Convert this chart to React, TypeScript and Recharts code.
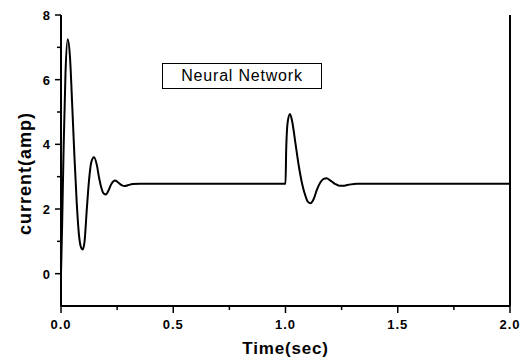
import React from 'react'
import { LineChart, Line, XAxis, YAxis } from 'recharts'

// time (sec) and current (amp)
const TIME = [
  0, 0.005, 0.012, 0.02, 0.03, 0.04, 0.05, 0.06, 0.07, 0.08, 0.09, 0.097, 0.105, 0.115, 0.125,
  0.135, 0.147, 0.16, 0.17, 0.18, 0.19, 0.2, 0.21, 0.225, 0.24, 0.255, 0.27, 0.285, 0.3, 0.32,
  0.35, 0.5, 0.75, 0.99, 1.0, 1.003, 1.01, 1.02, 1.03, 1.045, 1.06, 1.075, 1.09, 1.1, 1.112,
  1.125, 1.14, 1.155, 1.17, 1.183, 1.2, 1.22, 1.24, 1.256, 1.28, 1.32, 1.5, 1.75, 2.0,
]
const CURRENT = [
  0, 1.5, 4.0, 6.2, 7.25, 6.7, 5.2, 3.6, 2.2, 1.2, 0.8, 0.75, 1.0, 2.0, 2.9,
  3.45, 3.6, 3.35, 2.95, 2.65, 2.48, 2.45, 2.55, 2.78, 2.88, 2.82, 2.74, 2.71, 2.74, 2.77,
  2.78, 2.78, 2.78, 2.78, 2.78, 3.8, 4.7, 4.94, 4.7, 4.0, 3.3, 2.75, 2.38, 2.22, 2.18,
  2.3, 2.6, 2.82, 2.93, 2.95, 2.88, 2.78, 2.72, 2.72, 2.75, 2.78, 2.78, 2.78, 2.78,
]

const X_MAJOR = [0, 0.5, 1, 1.5, 2]
const X_LABELS = ['0.0', '0.5', '1.0', '1.5', '2.0']
const X_MINOR = [0.25, 0.75, 1.25, 1.75]
const Y_MAJOR = [0, 2, 4, 6, 8]
const Y_LABELS = ['0', '2', '4', '6', '8']
const Y_MINOR = [1, 3, 5, 7]

const data = TIME.map((t, i) => ({ t, current: CURRENT[i] }))
const xTicks = [...X_MAJOR, ...X_MINOR].sort((a, b) => a - b)
const yTicks = [...Y_MAJOR, ...Y_MINOR].sort((a, b) => a - b)

const FONT = '"Liberation Sans", Arial, sans-serif'

const BottomTick = ({ x, y, payload }: any) => {
  const idx = X_MAJOR.indexOf(payload.value)
  return (
    <g>
      <line x1={x} x2={x} y1={y} y2={y + (idx >= 0 ? 7 : 4)} stroke="#000" strokeWidth={1.5} />
      {idx >= 0 && (
        <text x={x} y={y + 23} textAnchor="middle" fontSize={13} fontWeight="bold" letterSpacing={1} fill="#000" fontFamily={FONT}>
          {X_LABELS[idx]}
        </text>
      )}
    </g>
  )
}

const TopTick = ({ x, y }: any) => (
  <line x1={x} x2={x} y1={y} y2={y + 4} stroke="#000" strokeWidth={1.5} />
)

const LeftTick = ({ x, y, payload }: any) => {
  const idx = Y_MAJOR.indexOf(payload.value)
  return (
    <g>
      <line x1={x - (idx >= 0 ? 6 : 4)} x2={x} y1={y} y2={y} stroke="#000" strokeWidth={1.5} />
      {idx >= 0 && (
        <text x={x - 11} y={y + 5} textAnchor="end" fontSize={13} fontWeight="bold" fill="#000" fontFamily={FONT}>
          {Y_LABELS[idx]}
        </text>
      )}
    </g>
  )
}

const RightTick = ({ x, y }: any) => (
  <line x1={x - 3} x2={x} y1={y} y2={y} stroke="#000" strokeWidth={1.5} />
)

const YTitle = ({ viewBox }: any) => {
  const cy = viewBox.y + viewBox.height / 2 + 13
  return (
    <text x={31} y={cy} transform={`rotate(-90, 31, ${cy})`} textAnchor="middle" fontSize={18} fontWeight="bold" letterSpacing={1} fill="#000" fontFamily={FONT}>
      current(amp)
    </text>
  )
}

export default function App() {
  return (
    <div style={{ position: 'absolute', left: 0, top: 0, width: 522, height: 362, background: '#fff', fontFamily: FONT }}>
      <LineChart width={522} height={362} data={data} margin={{ top: 15, right: 0, bottom: 0, left: 0 }}>
        <XAxis
          xAxisId="b"
          dataKey="t"
          type="number"
          domain={[0, 2]}
          ticks={xTicks}
          height={56}
          tickSize={0}
          tickMargin={0}
          tickLine={false}
          tick={<BottomTick />}
          axisLine={{ stroke: '#000', strokeWidth: 2 }}
          interval={0}
          label={{ value: 'Time(sec)', position: 'insideBottom', offset: 8, fontSize: 17, fontWeight: 'bold', fill: '#000', letterSpacing: 0.8 }}
        />
        <XAxis
          xAxisId="top"
          orientation="top"
          dataKey="t"
          type="number"
          domain={[0, 2]}
          ticks={xTicks}
          height={0}
          tickSize={0}
          tickMargin={0}
          tickLine={false}
          tick={<TopTick />}
          axisLine={{ stroke: '#000', strokeWidth: 2 }}
          interval={0}
        />
        <YAxis
          yAxisId="l"
          type="number"
          domain={[-1, 8]}
          ticks={yTicks}
          width={61}
          tickSize={0}
          tickMargin={0}
          tickLine={false}
          tick={<LeftTick />}
          axisLine={{ stroke: '#000', strokeWidth: 2 }}
          interval={0}
          label={{ content: <YTitle /> }}
        />
        <YAxis
          yAxisId="r"
          orientation="right"
          type="number"
          domain={[-1, 8]}
          ticks={yTicks}
          width={12}
          tickSize={0}
          tickMargin={0}
          tickLine={false}
          tick={<RightTick />}
          axisLine={{ stroke: '#000', strokeWidth: 2 }}
          interval={0}
        />
        <Line
          xAxisId="b"
          yAxisId="l"
          dataKey="current"
          type="monotone"
          stroke="#000"
          strokeWidth={2}
          dot={false}
          isAnimationActive={false}
        />
      </LineChart>
      <div
        style={{
          position: 'absolute',
          left: 162,
          top: 63,
          width: 160,
          height: 26,
          boxSizing: 'border-box',
          border: '1px solid #000',
          display: 'flex',
          alignItems: 'center',
          justifyContent: 'center',
          fontSize: 16,
          letterSpacing: 0.8,
          color: '#000',
        }}
      >
        Neural Network
      </div>
    </div>
  )
}
